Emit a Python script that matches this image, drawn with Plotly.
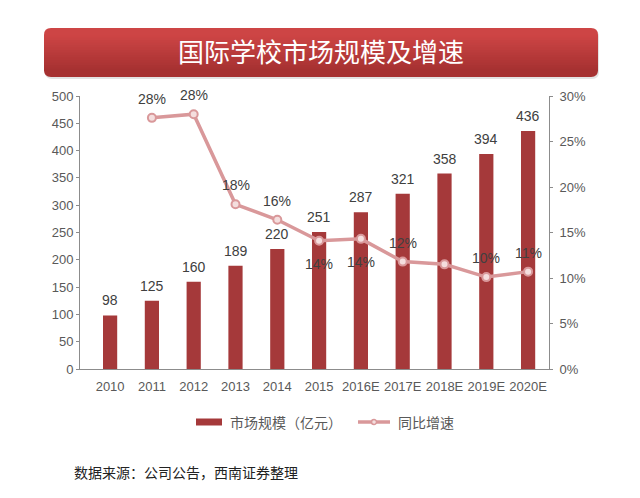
import plotly.graph_objects as go

# ---- data ----
years = ["2010", "2011", "2012", "2013", "2014", "2015", "2016E", "2017E", "2018E", "2019E", "2020E"]
market_size = [98, 125, 160, 189, 220, 251, 287, 321, 358, 394, 436]
growth = [None, 0.276, 0.280, 0.181, 0.164, 0.141, 0.143, 0.118, 0.115, 0.101, 0.107]
growth_labels = ["", "28%", "28%", "18%", "16%", "14%", "14%", "12%", "", "10%", "11%"]
growth_label_side = ["above", "above", "above", "above", "above",
                     "below", "below", "above", "above", "above", "above"]

title_text = "国际学校市场规模及增速"
bar_name = "市场规模（亿元）"
line_name = "同比增速"
source_text = "数据来源：公司公告，西南证券整理"

# ---- layout geometry (reference pixels) ----
OFF = 8  # page body margin of the browser
W, H = 640, 498
L, R, T, B = 80, 549, 96, 369

BAR_COLOR = "#A5393A"
LINE_COLOR = "#D9989A"
MARKER_FILL = "#F4DEDE"
TEXT_DARK = "#404040"
TICK_COLOR = "#595959"
AXIS_COLOR = "#8C8C8C"
NUM_FONT = "Liberation Sans, Arial, sans-serif"
CJK_FONT = "Noto Sans CJK SC, sans-serif"


def px(x):
    return (x - L) / (R - L)


def py(y):
    return (B - y) / (B - T)


def rounded_path(x0, y0, x1, y1, r, top=True, bottom=True):
    rx = r / (R - L)
    ry = r / (B - T)
    X0, X1 = px(x0), px(x1)
    Yt, Yb = py(y0), py(y1)
    p = []
    if top:
        p.append(f"M {X0+rx},{Yt} L {X1-rx},{Yt} Q {X1},{Yt} {X1},{Yt-ry}")
    else:
        p.append(f"M {X0},{Yt} L {X1},{Yt}")
    if bottom:
        p.append(f"L {X1},{Yb+ry} Q {X1},{Yb} {X1-rx},{Yb} L {X0+rx},{Yb} Q {X0},{Yb} {X0},{Yb+ry}")
    else:
        p.append(f"L {X1},{Yb} L {X0},{Yb}")
    if top:
        p.append(f"L {X0},{Yt-ry} Q {X0},{Yt} {X0+rx},{Yt} Z")
    else:
        p.append("Z")
    return " ".join(p)


def lerp_color(c1, c2, t):
    a = [int(c1[i:i+2], 16) for i in (1, 3, 5)]
    b = [int(c2[i:i+2], 16) for i in (1, 3, 5)]
    c = [round(a[i] + (b[i] - a[i]) * t) for i in range(3)]
    return "#%02X%02X%02X" % tuple(c)


fig = go.Figure()

fig.add_trace(go.Bar(
    x=years, y=market_size, name=bar_name,
    marker=dict(color=BAR_COLOR, line=dict(width=0)),
    width=0.34,
    showlegend=False,
))

fig.add_trace(go.Scatter(
    x=years, y=growth, name=line_name, yaxis="y2",
    mode="lines+markers",
    line=dict(color=LINE_COLOR, width=3.5),
    marker=dict(symbol="circle", size=8, color=MARKER_FILL,
                line=dict(color=LINE_COLOR, width=2)),
    cliponaxis=False,
    connectgaps=False,
    showlegend=False,
))

shapes = []
# banner shadow
shapes.append(dict(type="path", xref="paper", yref="paper",
                   path=rounded_path(45, 30, 599, 79, 7),
                   fillcolor="#E3E3E3", line=dict(width=0), layer="above"))
# banner gradient
c_top, c_bot = "#CD4545", "#A63131"
x0b, x1b, y0b, y1b, rad = 44, 598, 28, 77, 7
n_strips = 14
s0, s1 = y0b + rad, y1b - rad
for i in range(n_strips):
    ya = s0 + (s1 - s0) * i / n_strips
    yb = s0 + (s1 - s0) * (i + 1) / n_strips + 1.2
    col = lerp_color(c_top, c_bot, (i + 0.5) / n_strips)
    shapes.append(dict(type="rect", xref="paper", yref="paper",
                       x0=px(x0b), x1=px(x1b), y0=py(yb), y1=py(ya),
                       fillcolor=col, line=dict(width=0), layer="above"))
shapes.append(dict(type="path", xref="paper", yref="paper",
                   path=rounded_path(x0b, y0b, x1b, y0b + rad + 0.5, rad, top=True, bottom=False),
                   fillcolor=c_top, line=dict(width=0), layer="above"))
shapes.append(dict(type="path", xref="paper", yref="paper",
                   path=rounded_path(x0b, y1b - rad - 0.5, x1b, y1b, rad, top=False, bottom=True),
                   fillcolor=c_bot, line=dict(width=0), layer="above"))

# custom legend
shapes.append(dict(type="rect", xref="paper", yref="paper",
                   x0=px(196), x1=px(222), y0=py(425.5), y1=py(418.5),
                   fillcolor=BAR_COLOR, line=dict(width=0)))
shapes.append(dict(type="line", xref="paper", yref="paper",
                   x0=px(358), x1=px(390), y0=py(422), y1=py(422),
                   line=dict(color=LINE_COLOR, width=3.5)))
shapes.append(dict(type="circle", xref="paper", yref="paper",
                   x0=px(371.5), x1=px(376.5), y0=py(424.5), y1=py(419.5),
                   fillcolor=MARKER_FILL, line=dict(color=LINE_COLOR, width=1.5)))

annotations = [
    dict(text=title_text, xref="paper", yref="paper", x=px(321), y=py(51),
         xanchor="center", yanchor="middle", showarrow=False,
         font=dict(family=CJK_FONT, size=26, color="#FFFFFF")),
    dict(text=bar_name, xref="paper", yref="paper", x=px(228), y=py(422),
         xanchor="left", yanchor="middle", showarrow=False,
         font=dict(family=CJK_FONT, size=14, color=TICK_COLOR)),
    dict(text=line_name, xref="paper", yref="paper", x=px(396), y=py(422),
         xanchor="left", yanchor="middle", showarrow=False,
         font=dict(family=CJK_FONT, size=14, color=TICK_COLOR)),
    dict(text=source_text, xref="paper", yref="paper", x=px(72), y=py(472),
         xanchor="left", yanchor="middle", showarrow=False,
         font=dict(family=CJK_FONT, size=14, color="#222222")),
]

# bar value labels (x given as category index)
for i, v in enumerate(market_size):
    annotations.append(dict(text=str(v), xref="x", yref="y", x=i, y=v,
                            xanchor="center", yanchor="middle", yshift=15,
                            showarrow=False,
                            font=dict(family=NUM_FONT, size=14, color=TEXT_DARK)))

# growth labels
for i, (g, lab, side) in enumerate(zip(growth, growth_labels, growth_label_side)):
    if g is None or not lab:
        continue
    annotations.append(dict(text=lab, xref="x", yref="y2", x=i, y=g,
                            xanchor="center", yanchor="middle",
                            yshift=19 if side == "above" else -23,
                            showarrow=False,
                            font=dict(family=NUM_FONT, size=14, color=TEXT_DARK)))

fig.update_layout(
    width=W - OFF, height=H - OFF,
    margin=dict(l=L - OFF, r=W - R, t=T - OFF, b=H - B, pad=0),
    paper_bgcolor="#FFFFFF", plot_bgcolor="#FFFFFF",
    showlegend=False,
    xaxis=dict(
        type="category", range=[-0.72, 10.5],
        showgrid=False, zeroline=False,
        showline=True, linecolor=AXIS_COLOR, linewidth=1,
        ticks="", tickfont=dict(family=NUM_FONT, size=13, color=TICK_COLOR),
        ticklabelstandoff=5,
        fixedrange=True,
    ),
    yaxis=dict(
        range=[0, 500], dtick=50, showgrid=False, zeroline=False,
        showline=True, linecolor=AXIS_COLOR, linewidth=1,
        ticks="outside", ticklen=3, tickcolor=AXIS_COLOR,
        tickfont=dict(family=NUM_FONT, size=13, color=TICK_COLOR),
        ticklabelstandoff=0,
    ),
    yaxis2=dict(
        range=[0, 0.30], dtick=0.05, tickformat=".0%",
        overlaying="y", side="right", anchor="x",
        showgrid=False, zeroline=False,
        showline=True, linecolor=AXIS_COLOR, linewidth=1,
        ticks="outside", ticklen=3, tickcolor=AXIS_COLOR,
        tickfont=dict(family=NUM_FONT, size=13, color=TICK_COLOR),
        ticklabelstandoff=4,
    ),
    shapes=shapes,
    annotations=annotations,
)

fig.write_html("out.html")
